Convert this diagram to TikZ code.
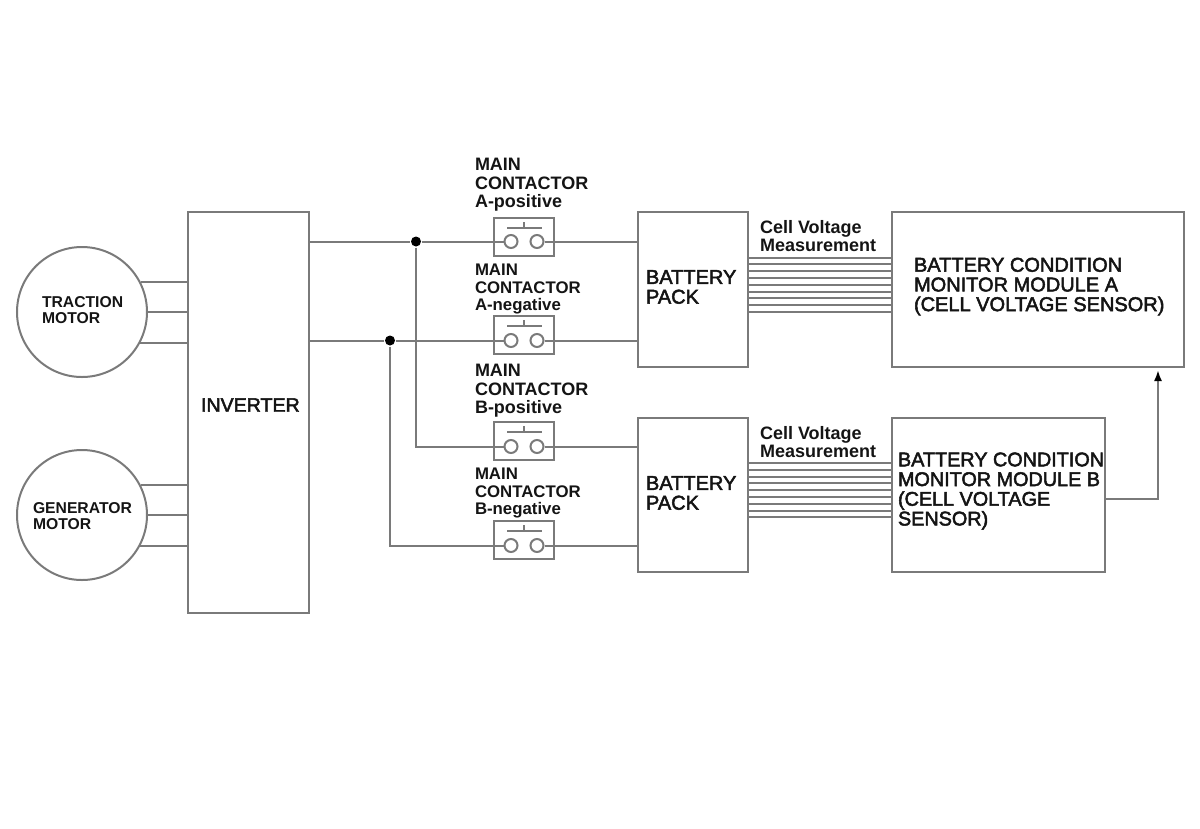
\documentclass[tikz,border=0pt]{standalone}
\usepackage{fontspec}
\usetikzlibrary{arrows.meta}
\setmainfont{Liberation Sans}
\newfontfamily\heavyfont[FakeBold=2.5]{Liberation Sans}
\definecolor{wire}{gray}{0.48}
\definecolor{ink}{gray}{0.08}
\begin{document}
\begin{tikzpicture}[
x=1pt,y=-1pt,
line width=2pt,
block/.style={draw=wire,inner sep=0pt},
motor/.style={draw=wire,circle,inner sep=0pt,minimum size=130pt},
contactor/.style={draw=wire,inner sep=0pt,minimum width=60pt,minimum height=38pt},
pole/.style={draw=wire,circle,inner sep=0pt,minimum size=13pt},
junction/.style={fill=black,circle,inner sep=0pt,minimum size=10pt},
title/.style={text=ink,inner sep=0pt,anchor=west,align=left,font=\heavyfont\fontsize{20}{19.7}\selectfont},
small/.style={text=ink,inner sep=0pt,anchor=west,align=left,font=\bfseries\fontsize{18}{18.5}\selectfont},
tiny/.style={text=ink,inner sep=0pt,anchor=west,align=left,font=\bfseries\fontsize{16.8}{17.5}\selectfont},
motorname/.style={text=ink,inner sep=0pt,anchor=west,align=left,font=\bfseries\fontsize{15.7}{16}\selectfont}
]
\useasboundingbox (0,0) rectangle (1200,828);
% blocks
\node[block,minimum width=121pt,minimum height=401pt] (inverter) at (248.5,412.5) {};
\node[block,minimum width=110pt,minimum height=155pt] (packa) at (693,289.5) {};
\node[block,minimum width=110pt,minimum height=154pt] (packb) at (693,495) {};
\node[block,minimum width=292pt,minimum height=155pt] (moda) at (1038,289.5) {};
\node[block,minimum width=213pt,minimum height=154pt] (modb) at (998.5,495) {};
\node[motor] (traction) at (82,312) {};
\node[motor] (generator) at (82,515) {};
% contactors
\node[contactor] (conapos) at (524,237) {};
\node[contactor] (conaneg) at (524,335) {};
\node[contactor] (conbpos) at (524,441) {};
\node[contactor] (conbneg) at (524,540) {};
\node[pole] (apos1) at (511,241.5) {};
\node[pole] (apos2) at (537,241.5) {};
\node[pole] (aneg1) at (511,340.5) {};
\node[pole] (aneg2) at (537,340.5) {};
\node[pole] (bpos1) at (511,446.5) {};
\node[pole] (bpos2) at (537,446.5) {};
\node[pole] (bneg1) at (511,545.5) {};
\node[pole] (bneg2) at (537,545.5) {};
\foreach \c in {conapos,conaneg,conbpos,conbneg}
    \draw[wire,line width=1.5pt] ([xshift=-17pt,yshift=9pt]\c.center) -- ([xshift=18pt,yshift=9pt]\c.center)
        ([yshift=9pt]\c.center) -- ([yshift=15pt]\c.center);
% junctions
\node[junction] (dota) at (416,241.5) {};
\node[junction] (dotb) at (390,340.5) {};
% wires
\draw[wire] (inverter.east |- dota) -- (dota) -- (apos1);
\draw[wire] (inverter.east |- dotb) -- (dotb) -- (aneg1);
\draw[wire] (dota) |- (bpos1);
\draw[wire] (dotb) |- (bneg1);
\draw[wire] (apos2) -- (apos2 -| packa.west);
\draw[wire] (aneg2) -- (aneg2 -| packa.west);
\draw[wire] (bpos2) -- (bpos2 -| packb.west);
\draw[wire] (bneg2) -- (bneg2 -| packb.west);
\draw[wire] (traction.27) -- (traction.27 -| inverter.west);
\draw[wire] (traction.east) -- (traction.east -| inverter.west);
\draw[wire] (traction.-28) -- (traction.-28 -| inverter.west);
\draw[wire] (generator.27) -- (generator.27 -| inverter.west);
\draw[wire] (generator.east) -- (generator.east -| inverter.west);
\draw[wire] (generator.-28) -- (generator.-28 -| inverter.west);
\foreach \i in {0,...,8} {
    \draw[wire] ([yshift=-46.5pt-6.8pt*\i]packa.north east) -- ([yshift=-46.5pt-6.8pt*\i]moda.north west);
    \draw[wire] ([yshift=-46pt-6.8pt*\i]packb.north east) -- ([yshift=-46pt-6.8pt*\i]modb.north west);
}
\draw[wire,-{Latex[length=11pt,width=8pt,black]},shorten >=2pt] ([yshift=-3.5pt]modb.east) -| ([xshift=120pt]moda.south);
% labels
\node[title,font=\heavyfont\fontsize{19.6}{19.5}\selectfont] (invlabel) at (200,405) {INVERTER};
\node[title] (packalabel) at (645,287) {BATTERY\\PACK};
\node[title] (packblabel) at (645,493) {BATTERY\\PACK};
\node[title] (modalabel) at (913,286.5) {BATTERY CONDITION\\MONITOR MODULE A\\(CELL VOLTAGE SENSOR)};
\node[title,font=\heavyfont\fontsize{19.8}{19.7}\selectfont] (modblabel) at (897,491) {BATTERY CONDITION\\MONITOR MODULE B\\(CELL VOLTAGE\\SENSOR)};
\node[motorname] (tractionlabel) at (41,310) {TRACTION\\MOTOR};
\node[motorname] (generatorlabel) at (32,516) {GENERATOR\\MOTOR};
\node[small] (aposlabel) at (474,185) {MAIN\\CONTACTOR\\A-positive};
\node[tiny] (aneglabel) at (474,289) {MAIN\\CONTACTOR\\A-negative};
\node[small] (bposlabel) at (474,391) {MAIN\\CONTACTOR\\B-positive};
\node[tiny] (bneglabel) at (474,493) {MAIN\\CONTACTOR\\B-negative};
\node[small] (cellalabel) at (759,236) {Cell Voltage\\Measurement};
\node[small] (cellblabel) at (759,442) {Cell Voltage\\Measurement};
\end{tikzpicture}
\end{document}
